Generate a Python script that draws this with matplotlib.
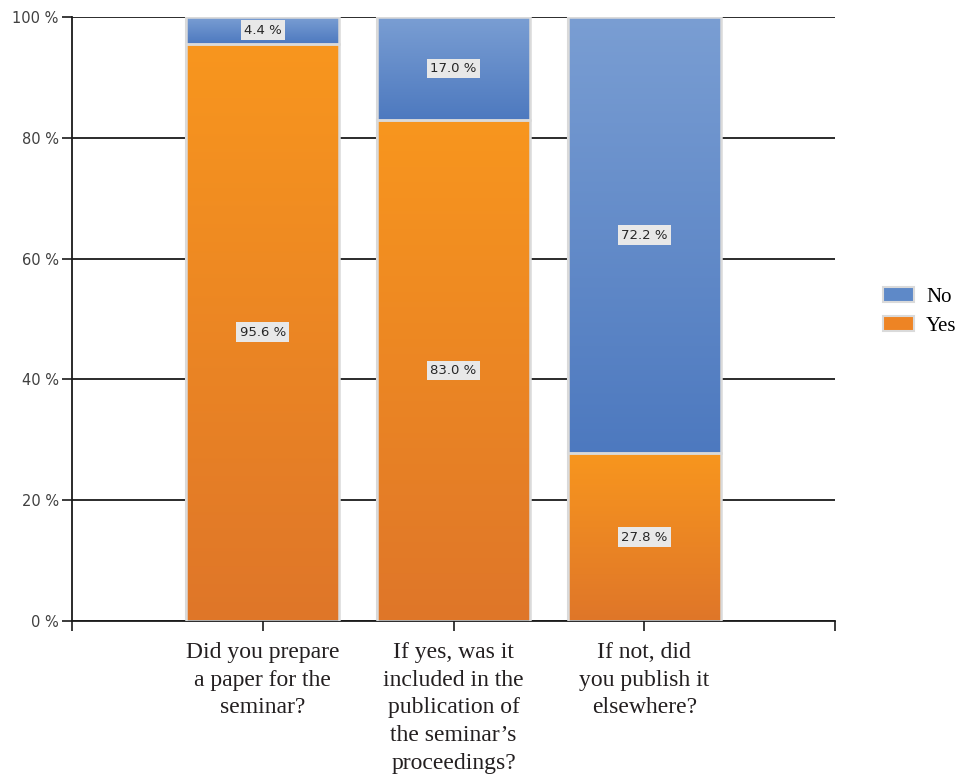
import numpy as np
import matplotlib.pyplot as plt
from matplotlib.colors import LinearSegmentedColormap
from matplotlib.patches import Patch

categories = ["Did you prepare\na paper for the\nseminar?",
              "If yes, was it\nincluded in the\npublication of\nthe seminar\u2019s\nproceedings?",
              "If not, did\nyou publish it\nelsewhere?"]
yes_vals = [95.6, 83.0, 27.8]
no_vals = [4.4, 17.0, 72.2]
yticks = [0, 20, 40, 60, 80, 100]

orange_top, orange_bot = "#f8961e", "#df7629"
blue_top, blue_bot = "#7a9ed3", "#4d79bf"


def gradient_fill(ax, bars, top, bot):
    cmap = LinearSegmentedColormap.from_list("g", [bot, top])
    grad = np.linspace(0, 1, 256).reshape(-1, 1)
    for b in bars:
        x0, y0 = b.get_x(), b.get_y()
        w, h = b.get_width(), b.get_height()
        im = ax.imshow(grad, cmap=cmap, origin="lower", aspect="auto",
                       extent=[x0, x0 + w, y0, y0 + h], zorder=2.5)
        im.set_clip_path(b)


fig = plt.figure(figsize=(9.6, 7.82), dpi=100)
ax = fig.add_axes([0.075, 0.2059, 0.7948, 0.7724])

x = np.arange(len(categories))
width = 0.8
yes_bars = ax.bar(x, yes_vals, width, color=orange_top, edgecolor="#d9d9d9",
                  linewidth=1.5, zorder=2, label="Yes")
no_bars = ax.bar(x, no_vals, width, bottom=yes_vals, color=blue_top,
                 edgecolor="#d9d9d9", linewidth=1.5, zorder=2, label="No")
gradient_fill(ax, yes_bars, orange_top, orange_bot)
gradient_fill(ax, no_bars, blue_top, blue_bot)
# redraw edges on top of gradients
for b in list(yes_bars) + list(no_bars):
    r = plt.Rectangle((b.get_x(), b.get_y()), b.get_width(), b.get_height(),
                      fill=False, edgecolor="#dadada", linewidth=1.8, zorder=3)
    ax.add_patch(r)

box = dict(boxstyle="square,pad=0.25", fc="#e8e8e8", ec="none")
for i in range(len(categories)):
    ax.text(x[i], yes_vals[i] / 2, f"{yes_vals[i]:.1f} %", ha="center", va="center",
            fontsize=9.5, color="#262626", bbox=box, zorder=5)
    ax.text(x[i], yes_vals[i] + no_vals[i] / 2, f"{no_vals[i]:.1f} %", ha="center",
            va="center", fontsize=9.5, color="#262626", bbox=box, zorder=5)

ax.set_xlim(-1, 3)
ax.set_ylim(0, 100)
ax.set_yticks(yticks)
ax.set_yticklabels([f"{v} %" for v in yticks], fontsize=10.5, color="#404040")
ax.yaxis.grid(True, color="#1a1a1a", linewidth=1.3, zorder=0)
ax.set_axisbelow(True)

ax.set_xticks([-1, 0, 1, 2, 3])
ax.set_xticklabels([""] + categories + [""], fontsize=17, family="Liberation Serif",
                   color="#231f20", linespacing=1.42, va="top")
ax.tick_params(axis="x", length=7, width=1.2, color="#1a1a1a", pad=8)
ax.tick_params(axis="y", length=7.5, width=1.2, color="#1a1a1a", pad=2)

for s in ["top", "right"]:
    ax.spines[s].set_visible(False)
for s in ["left", "bottom"]:
    ax.spines[s].set_color("#1a1a1a")
    ax.spines[s].set_linewidth(1.3)

handles = [Patch(facecolor="#5e89c8", edgecolor="#dadada", linewidth=1.5, label="No"),
           Patch(facecolor="#ee8424", edgecolor="#dadada", linewidth=1.5, label="Yes")]
fig.legend(handles=handles, loc="center left", bbox_to_anchor=(0.92, 0.602),
           frameon=False, prop={"family": "Liberation Serif", "size": 15},
           handlelength=1.5, handleheight=0.7, handletextpad=0.55, labelspacing=0.45,
           borderaxespad=0, borderpad=0)

fig.savefig("out.png", dpi=100)
